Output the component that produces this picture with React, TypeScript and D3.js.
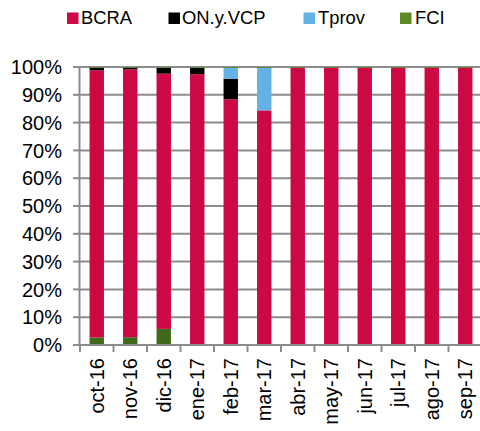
import React from "react";
import * as d3 from "d3";

const categories = ["oct-16","nov-16","dic-16","ene-17","feb-17","mar-17","abr-17","may-17","jun-17","jul-17","ago-17","sep-17"];
const otros = [2.7, 2.8, 5.8, 0, 0, 0, 0, 0, 0, 0, 0, 0];
const bcra = [96.1, 96.4, 91.8, 97.4, 88.4, 84.4, 99.7, 99.7, 99.7, 99.7, 99.7, 99.7];
const onVcp = [0.9, 0.5, 2.1, 2.3, 7.4, 0, 0, 0, 0, 0, 0, 0];
const tprov = [0, 0, 0, 0, 3.9, 15.3, 0, 0, 0, 0, 0, 0];
const fci = [0.3, 0.3, 0.3, 0.3, 0.3, 0.3, 0.3, 0.3, 0.3, 0.3, 0.3, 0.3];
const yTicks = [0, 10, 20, 30, 40, 50, 60, 70, 80, 90, 100];

const seriesKeys = ["otros", "BCRA", "ON.y.VCP", "Tprov", "FCI"];
const colors: Record<string, string> = {
  otros: "#3f6a1b",
  BCRA: "#cc0845",
  "ON.y.VCP": "#000000",
  Tprov: "#63b2e6",
  FCI: "#5b8c24",
};
const legendItems = [
  { key: "BCRA", sx: 67, tx: 81 },
  { key: "ON.y.VCP", sx: 168.5, tx: 182 },
  { key: "Tprov", sx: 303.5, tx: 318 },
  { key: "FCI", sx: 400, tx: 415 },
];

export default function App() {
  const W = 480, H = 431;
  const left = 80, right = 482, top = 67, bottom = 345;
  const rows = categories.map((c, i) => ({
    cat: c,
    otros: otros[i],
    BCRA: bcra[i],
    "ON.y.VCP": onVcp[i],
    Tprov: tprov[i],
    FCI: fci[i],
  }));
  const stack = d3.stack<any>().keys(seriesKeys).offset(d3.stackOffsetExpand);
  const layers = stack(rows);
  const x = d3.scaleBand<string>().domain(categories).range([left, right]).padding(0);
  const y = d3.scaleLinear().domain([0, 1]).range([bottom, top]);
  const bw = x.bandwidth();
  const barW = bw * 0.43;
  const font = "'Liberation Sans', Arial, sans-serif";

  return (
    <svg width={W} height={H} style={{ position: "absolute", left: 0, top: 0, background: "#fff" }}>
      {/* legend */}
      {legendItems.map((l) => (
        <g key={l.key}>
          <rect x={l.sx} y={12.5} width={11.5} height={11.5} fill={colors[l.key]} />
          <text x={l.tx} y={24} fontFamily={font} fontSize={18.4} fill="#000">{l.key}</text>
        </g>
      ))}
      {/* gridlines */}
      {yTicks.map((t) => (
        <line key={"g" + t} x1={left} x2={W} y1={y(t / 100)} y2={y(t / 100)} stroke="#8c8c8c" strokeWidth={2} />
      ))}
      {/* bars */}
      {layers.map((layer) => (
        <g key={layer.key} fill={colors[layer.key]}>
          {layer.map((d, i) => {
            const h = y(d[0]) - y(d[1]);
            if (h <= 0) return null;
            return (
              <rect key={i} x={(x(categories[i]) as number) + (bw - barW) / 2} y={y(d[1])} width={barW} height={h} />
            );
          })}
        </g>
      ))}
      {/* y axis */}
      <line x1={left - 0.5} x2={left - 0.5} y1={top} y2={bottom} stroke="#8c8c8c" strokeWidth={2} />
      {yTicks.map((t) => (
        <g key={"t" + t}>
          <line x1={left - 7} x2={left} y1={y(t / 100)} y2={y(t / 100)} stroke="#8c8c8c" strokeWidth={2} />
          <text x={62} y={y(t / 100)} dy="0.36em" textAnchor="end" fontFamily={font} fontSize={20} fill="#000">{t}%</text>
        </g>
      ))}
      {/* x axis */}
      <line x1={left} x2={W} y1={bottom} y2={bottom} stroke="#8c8c8c" strokeWidth={2} />
      {categories.map((c) => (
        <line key={"xt" + c} x1={x(c) as number} x2={x(c) as number} y1={bottom} y2={bottom + 7} stroke="#8c8c8c" strokeWidth={2} />
      ))}
      {categories.map((c) => {
        const cx = (x(c) as number) + bw / 2;
        const ty = 358;
        return (
          <text key={"xl" + c} x={0} y={0} transform={`translate(${cx},${ty}) rotate(-90)`} dy="0.35em" textAnchor="end" fontFamily={font} fontSize={20} fill="#000">{c}</text>
        );
      })}
    </svg>
  );
}
